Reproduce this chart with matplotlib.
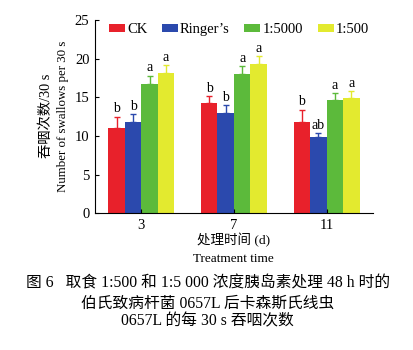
import matplotlib
matplotlib.use('Agg')
import matplotlib.pyplot as plt
import numpy as np

# swallows per 30 s
days = ['3', '7', '11']
series = ['CK', 'Ringer\u2019s', '1:5000', '1:500']
means = [
    [11.0, 14.2, 11.85],   # CK
    [11.85, 13.0, 9.8],    # Ringer's
    [16.7, 18.0, 14.65],   # 1:5000
    [18.2, 19.3, 14.9],    # 1:500
]
errs = [
    [1.5, 0.9, 1.55],
    [0.95, 1.0, 0.6],
    [1.1, 1.05, 0.9],
    [1.0, 1.0, 0.85],
]
letters = [
    ['b', 'b', 'b'],
    ['b', 'b', 'ab'],
    ['a', 'a', 'a'],
    ['a', 'a', 'a'],
]
colors = ['#e8212b', '#2b49ad', '#5cba3b', '#e3ea2f']

serif = ['Liberation Serif', 'Noto Sans CJK SC']
plt.rcParams['font.family'] = serif

fig = plt.figure(figsize=(4.13, 3.5), dpi=100)
ax = fig.add_axes([0.230, 0.391, 0.673, 0.552])

x = np.arange(len(days))
w = 0.178
for i, name in enumerate(series):
    pos = x + (i - 1.5) * w
    ax.bar(pos, means[i], w, color=colors[i], label=name, linewidth=0)
    ax.errorbar(pos, means[i], yerr=[np.zeros(3), errs[i]], fmt='none',
                ecolor=colors[i], elinewidth=1, capsize=2.5, capthick=1)
    for p, m, e, t in zip(pos, means[i], errs[i], letters[i]):
        ax.text(p, m + e + 0.15, t, ha='center', va='bottom', fontsize=10)

ax.set_xlim(-0.5, 2.5)
ax.set_ylim(0, 25)
ax.set_yticks([0, 5, 10, 15, 20, 25])
ax.set_xticks(x)
ax.set_xticklabels(days)
ax.tick_params(direction='in', length=3, width=0.8, labelsize=10.5, pad=4)
ax.spines['top'].set_visible(False)
ax.spines['right'].set_visible(False)

ax.legend(loc='center', bbox_to_anchor=(0.518, 0.948), ncol=4, frameon=False,
          fontsize=10.5, handlelength=1.1, handleheight=0.45, handletextpad=0.15,
          columnspacing=1.0, borderaxespad=0, borderpad=0)

fig.text(0.113, 0.668, '吞咽次数/30 s', rotation=90, ha='center', va='center', fontsize=10.3)
fig.text(0.153, 0.668, 'Number of swallows per 30 s', rotation=90, ha='center', va='center', fontsize=9.3)

fig.text(0.5655, 0.313, '处理时间 (d)', ha='center', va='center', fontsize=9.7)
fig.text(0.5655, 0.261, 'Treatment time', ha='center', va='center', fontsize=9.5)

fig.text(0.503, 0.191, '图 6   取食 1:500 和 1:5 000 浓度胰岛素处理 48 h 时的',
         ha='center', va='center', fontsize=11.3)
fig.text(0.503, 0.131, '伯氏致病杆菌 0657L 后卡森斯氏线虫',
         ha='center', va='center', fontsize=11.3)
fig.text(0.503, 0.083, '0657L 的每 30 s 吞咽次数',
         ha='center', va='center', fontsize=11.3)

fig.savefig('out.png', dpi=100)
